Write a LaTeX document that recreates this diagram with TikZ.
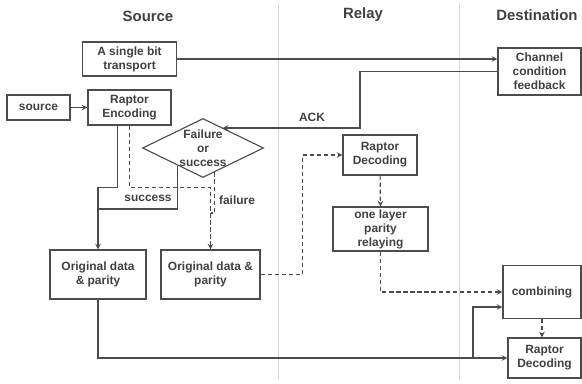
\documentclass[tikz,border=0pt]{standalone}
\usepackage{fontspec}
\setmainfont{Liberation Sans}
\usetikzlibrary{shapes.geometric}

\begin{document}
\begin{tikzpicture}[x=0.025cm,y=-0.025cm,
  box/.style={draw=black!70,line width=0.8pt,align=center,inner sep=0pt,
    font=\bfseries\fontsize{8.5}{10}\selectfont,text=black!75},
  lbl/.style={font=\bfseries\fontsize{8.5}{10}\selectfont,text=black!75,inner sep=0pt},
  head/.style={font=\bfseries\fontsize{10.6}{12}\selectfont,text=black!75},
  line/.style={draw=black!70,line width=0.8pt},
  dline/.style={draw=black!70,line width=0.8pt,densely dashed}]
\useasboundingbox (0,0) rectangle (582,383);
% lanes
\draw [black!15,line width=0.6pt] (278,3) -- (278,380);
\draw [black!15,line width=0.6pt] (459,3) -- (459,380);
\node [head] (hsrc) at (148,16) {Source};
\node [head] (hrel) at (363,15) {Relay};
\node [head] (hdst) at (537,15) {Destination};
% source side
\node [box,minimum width=2.33cm,minimum height=0.85cm] (bit) at (129.5,59) {A single bit\\transport};
\node [box,minimum width=1.575cm,minimum height=0.625cm] (src) at (38.5,107.5) {source};
\node [box,minimum width=2.075cm,minimum height=0.875cm] (enc) at (129.5,107.5) {Raptor\\Encoding};
\node [diamond,draw=black!70,line width=0.8pt,inner sep=0pt,minimum width=3.025cm,minimum height=1.475cm] (fs) at (203,148) {};
\node [lbl,align=center] (fstxt) at (fs) {Failure\\or\\success};
\node [box,minimum width=2.4cm,minimum height=1.225cm] (org1) at (98,274.5) {Original data\\\& parity};
\node [box,minimum width=2.475cm,minimum height=1.225cm] (org2) at (210.5,274.5) {Original data \&\\parity};
% relay
\node [box,minimum width=1.85cm,minimum height=1cm] (rdec) at (380,155) {Raptor\\Decoding};
\node [box,minimum width=2.375cm,minimum height=1.1cm] (layer) at (380.5,229) {one layer\\parity\\relaying};
% destination
\node [box,minimum width=2.075cm,minimum height=1.175cm] (chan) at (539.5,71.5) {Channel\\condition\\feedback};
\node [box,minimum width=1.95cm,minimum height=1.325cm] (comb) at (542,292) {combining};
\node [box,minimum width=1.825cm,minimum height=1cm] (ddec) at (544.5,358) {Raptor\\Decoding};
\coordinate (ackc) at (360,128);
\coordinate (sj) at (98,209);
\coordinate (fj) at (210.5,213);
\coordinate (br) at (473,358);
% connectors
\draw [line] [-stealth] (src) -- (enc);
\draw [line] [-stealth] (bit.east) -- (bit.east -| chan.west);
\draw [line] [-stealth] (chan.west) -| (ackc) -- (ackc -| fs.46);
\node [lbl] (ack) at (312,117) {ACK};
\draw [line] [-stealth] ([xshift=-3.1mm]enc.south) -- ++(0,62) -| (org1.north);
\draw [line] (fs.215) |- (sj);
\node [lbl] (succ) at (148,198) {success};
\draw [dline] [-stealth] (enc.south) -- ++(0,62) -| (org2.north);
\draw [dline] (fs.295) |- (fj);
\node [lbl] (fail) at (237,200) {failure};
\draw [dline] [-stealth] (org2.east) -- ++(42,0) |- (rdec.west);
\draw [dline] [-stealth] (rdec) -- (layer);
\draw [dline] [-stealth] (layer.south) |- (comb.west);
\draw [line] [-stealth] (org1.south) |- (ddec.west);
\draw [line] [-stealth] (br) |- ([yshift=-3.75mm]comb.west);
\draw [dline] [-stealth] (comb.south) -- (comb.south |- ddec.north);
\end{tikzpicture}
\end{document}
